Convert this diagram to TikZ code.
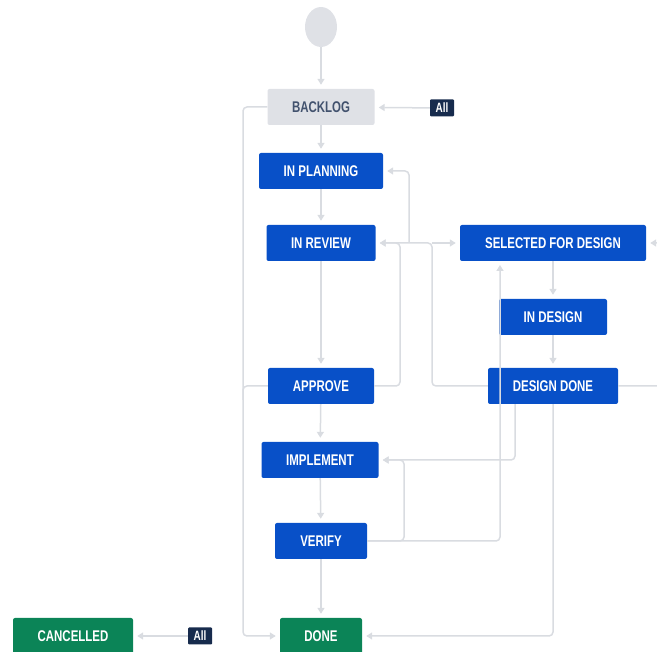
\documentclass[tikz,border=0pt]{standalone}
\usepackage{fontspec}
\usepackage{tikz}
\usetikzlibrary{arrows.meta,shapes.geometric}
\newfontfamily\boxfont[FakeStretch=0.74]{Liberation Sans}
\definecolor{jblue}{HTML}{0850C8}
\definecolor{jgreen}{HTML}{0B8457}
\definecolor{jgrey}{HTML}{DFE1E6}
\definecolor{jline}{HTML}{D9DCE1}
\definecolor{jnavy}{HTML}{172B4D}
\definecolor{jtext}{HTML}{42526E}

\begin{document}
\begin{tikzpicture}[x=1pt,y=-1pt,>={Triangle[length=6pt,width=7pt]}]
        \useasboundingbox (0,0) rectangle (657,652);
        \clip (0,0) rectangle (657,652);
        \tikzstyle{every node} = [rectangle, rounded corners=2pt, minimum height=36pt, inner sep=0pt,
            font=\boxfont\bfseries\fontsize{15.5}{15.5}\selectfont]
        \tikzstyle{blue} = [fill=jblue, text=white]
        \tikzstyle{green} = [fill=jgreen, text=white]
        \tikzstyle{grey} = [fill=jgrey, text=jtext]
        \tikzstyle{badge} = [fill=jnavy, text=white, minimum height=17pt, minimum width=24pt,
            rounded corners=1pt, font=\boxfont\bfseries\fontsize{13.5}{13.5}\selectfont]
        \tikzstyle{link} = [draw=jline, line width=1.5pt, rounded corners=4pt, shorten >=4pt]

        \node[ellipse, fill=jgrey, minimum width=32pt, minimum height=40pt] (0) at (321,27) {};
        \node[grey, minimum width=107pt] (1) at (321,107) {BACKLOG};
        \node[blue, minimum width=124pt] (2) at (321,171) {IN PLANNING};
        \node[blue, minimum width=109pt] (3) at (321,243) {IN REVIEW};
        \node[blue, minimum width=106pt] (4) at (321,386) {APPROVE};
        \node[blue, minimum width=117pt] (5) at (320,460) {IMPLEMENT};
        \node[blue, minimum width=92pt] (6) at (321,541) {VERIFY};
        \node[green, minimum width=82pt] (7) at (321,636) {DONE};
        \node[blue, minimum width=186pt] (8) at (553,243) {SELECTED FOR DESIGN};
        \node[blue, minimum width=108pt] (9) at (553,317) {IN DESIGN};
        \node[blue, minimum width=130pt] (10) at (553,386) {DESIGN DONE};
        \node[green, minimum width=120pt] (11) at (73,636) {CANCELLED};
        \node[badge] (12) at (442,108) {All};
        \node[badge] (13) at (200,636) {All};

        \foreach \from/\to in {0/1, 1/2, 2/3, 3/4, 4/5, 5/6, 6/7, 8/9, 9/10, 12/1, 13/11}
            \draw[link, ->] (\from) -- (\to);

        % loops back and across
        \draw[link, ->] (1.west) -- (243,107) |- (7.west);
        \draw[link, shorten >=0pt] (4.west) -- (243,386) -- (243,400);
        \draw[link, ->] (4.east) -- (400,386) -- (400,243) -- (3.east);
        \draw[link, ->] (10.west) -- (432,386) -- (432,243) -- (3.east);
        \draw[link, ->] (409,243) |- (2.east);
        \draw[link, ->] (432,243) -- (8.west);
        \draw[link, ->] (6.east) -| (500,261);
        \draw[link, ->] (6.east) -- (404,541) |- (5.east);
        \draw[link, ->] ([xshift=-38pt]10.south) |- (5.east);
        \draw[link, ->] (10.south) |- (7.east);
        \draw[link, ->] (10.east) -- (670,386) -- (670,243) -- (8.east);
\end{tikzpicture}
\end{document}
